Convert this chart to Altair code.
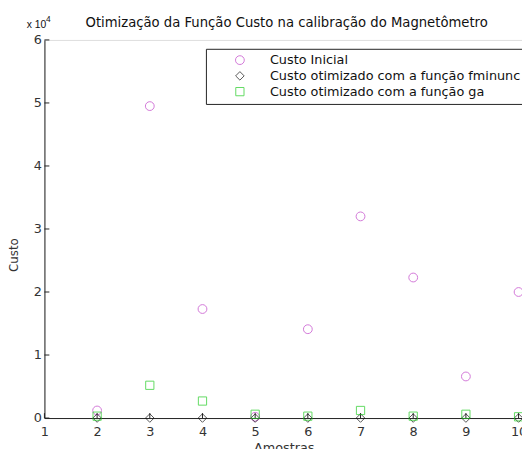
import altair as alt
import pandas as pd

amostras = [2, 3, 4, 5, 6, 7, 8, 9, 10]
custo_inicial = [0.12, 4.95, 1.73, 0.02, 1.41, 3.20, 2.23, 0.66, 2.00]
custo_fminunc = [0.0, 0.0, 0.0, 0.0, 0.0, 0.0, 0.0, 0.0, 0.0]
custo_ga = [0.03, 0.52, 0.27, 0.06, 0.03, 0.12, 0.03, 0.06, 0.02]

series_names = ["Custo Inicial",
                "Custo otimizado com a função fminunc",
                "Custo otimizado com a função ga"]
x_ticks = [1, 2, 3, 4, 5, 6, 7, 8, 9, 10]
y_ticks = [0, 1, 2, 3, 4, 5, 6]

rows = []
for name, vals in zip(series_names, [custo_inicial, custo_fminunc, custo_ga]):
    for a, v in zip(amostras, vals):
        rows.append({"Amostras": a, "Custo": v, "Serie": name})
df = pd.DataFrame(rows)

FONT = "DejaVu Sans"
W, H = 485, 384

xscale = alt.Scale(domain=[1, 10.065], nice=False, zero=False)
yscale = alt.Scale(domain=[0, 6], nice=False)

points = alt.Chart(df).mark_point(filled=False, strokeWidth=1, clip=False).encode(
    x=alt.X("Amostras:Q", scale=xscale,
            axis=alt.Axis(values=x_ticks, format="d", grid=False, ticks=False, domainColor="#222",
                          labelColor="#333", labelFontSize=13, labelFont=FONT,
                          labelPadding=8, labelFlush=False, labelOverlap=False,
                          title="Amostras", titleFont=FONT, titleFontSize=13,
                          titleFontWeight="normal", titleColor="#333",
                          titleX=243, titleY=24, titleBaseline="top")),
    y=alt.Y("Custo:Q", scale=yscale,
            axis=alt.Axis(values=y_ticks, format="d", grid=False, ticks=False, domainColor="#222",
                          labelColor="#333", labelFontSize=13, labelFont=FONT,
                          labelPadding=3, labelFlush=False,
                          title="Custo", titleFont=FONT, titleFontSize=12,
                          titleFontWeight="normal", titleColor="#333",
                          titleX=-31, titleY=218, titleAlign="center",
                          titleBaseline="middle", titleAngle=-90)),
    color=alt.Color("Serie:N", sort=series_names,
                    scale=alt.Scale(domain=series_names,
                                    range=["#c040c8", "#111111", "#22cc22"]),
                    legend=alt.Legend(title=None, orient="none", legendX=164, legendY=9,
                                      strokeColor="#222", fillColor="white",
                                      padding=5, symbolOffset=23, labelOffset=24,
                                      labelFont=FONT, labelFontSize=13, labelColor="#111",
                                      symbolSize=60, symbolStrokeWidth=1,
                                      rowPadding=2, labelLimit=400)),
    shape=alt.Shape("Serie:N", sort=series_names,
                    scale=alt.Scale(domain=series_names,
                                    range=["circle", "diamond", "square"])),
    size=alt.Size("Serie:N", scale=alt.Scale(domain=series_names, range=[80, 70, 100]),
                  legend=None),
    order=alt.Order("ord:Q"),
).transform_calculate(ord="indexof(['Custo Inicial','Custo otimizado com a função fminunc','Custo otimizado com a função ga'], datum.Serie)")

ytick_df = pd.DataFrame({"v": y_ticks})
xtick_df = pd.DataFrame({"v": x_ticks})

yt = alt.Chart(ytick_df).mark_rule(color="#222", strokeWidth=1).encode(
    y=alt.Y("v:Q", scale=yscale), x=alt.value(0), x2=alt.value(5))
xt = alt.Chart(xtick_df).mark_rule(color="#222", strokeWidth=1).encode(
    x=alt.X("v:Q", scale=xscale), y=alt.value(H), y2=alt.value(H - 5))

title_txt = alt.Chart(pd.DataFrame({"t": ["Otimização da Função Custo na calibração do Magnetômetro"]})).mark_text(
    font=FONT, fontSize=13.4, color="#111", align="center", baseline="middle").encode(
    text="t:N", x=alt.value(246), y=alt.value(-17))
exp_txt = alt.Chart(pd.DataFrame({"t": ["x 10"]})).mark_text(
    font="Liberation Sans", fontSize=10.5, color="#111", align="left", baseline="middle").encode(
    text="t:N", x=alt.value(-18), y=alt.value(-15))
sup_txt = alt.Chart(pd.DataFrame({"t": ["4"]})).mark_text(
    font="Liberation Sans", fontSize=8.5, color="#111", align="left", baseline="middle").encode(
    text="t:N", x=alt.value(1.5), y=alt.value(-21))

chart = alt.layer(yt, xt, points, title_txt, exp_txt, sup_txt).properties(
    width=W, height=H,
    autosize=alt.AutoSizeParams(type="none"),
    padding={"left": 37, "top": 29, "right": 0, "bottom": 28},
).configure_view(stroke=None).configure(background="white")

chart.save("out.html", embed_options={"renderer": "svg", "actions": False})
